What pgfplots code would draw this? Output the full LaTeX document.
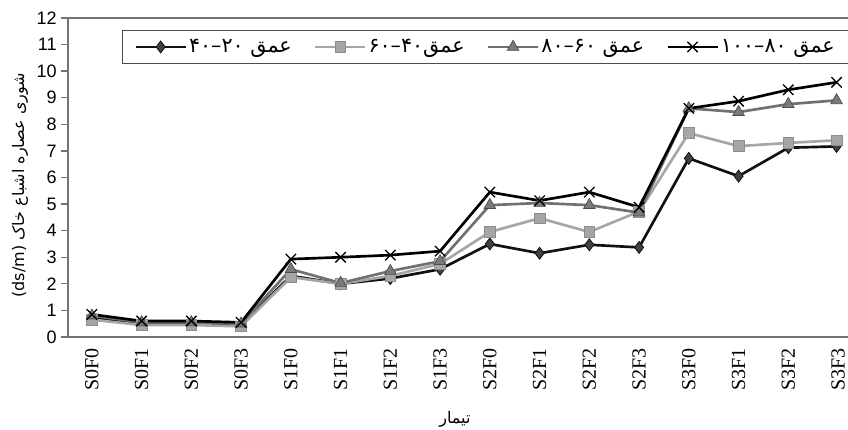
\documentclass[border=0pt]{standalone}
\usepackage{pgfplots}
\pgfplotsset{compat=1.18}
\usepackage{fontspec}
\setmainfont{Liberation Sans}
\newfontfamily\arabicfont[Script=Arabic]{DejaVu Sans}
\newfontfamily\serifx{Liberation Serif}
\TeXXeTstate=1
\definecolor{sA}{HTML}{111111}
\definecolor{sAm}{HTML}{404040}
\definecolor{sB}{HTML}{A6A6A6}
\definecolor{sC}{HTML}{707070}
\definecolor{sCm}{HTML}{7A7A7A}
\begin{document}
\begin{tikzpicture}
\begin{axis}[name=ax, scale only axis, width=585pt, height=239.25pt,
  xmin=-0.48, xmax=15.2, ymin=0, ymax=12,
  ytick={0,1,...,12},
  xtick={0,1,...,15},
  xticklabels={S0F0,S0F1,S0F2,S0F3,S1F0,S1F1,S1F2,S1F3,S2F0,S2F1,S2F2,S2F3,S3F0,S3F1,S3F2,S3F3},
  x tick label style={rotate=90, anchor=east, font=\serifx\fontsize{15}{15}\selectfont},
  y tick label style={font=\fontsize{13.5}{14}\selectfont},
  /pgf/number format/assume math mode=true,
  axis x line*=bottom, axis y line*=left,
  axis line style={black!55, line width=1pt},
  tick align=outside, major tick length=5pt,
  y tick style={black!55, line width=1pt},
  x tick style={draw=none},
  clip=false,
  xlabel={\arabicfont\beginR تیمار\endR},
  xlabel style={at={(axis description cs:0.496,0)}, anchor=center, yshift=-62pt, font=\fontsize{12}{13}\selectfont},
  ylabel={\arabicfont\beginR شوری عصاره اشباع خاک \beginL(ds/m)\endL\endR},
  ylabel style={at={(axis description cs:-0.0615,0.476)}, anchor=center, font=\fontsize{12}{13}\selectfont},
  legend columns=4,
  legend style={at={(0.069,0.962)}, anchor=north west, draw=black!70, line width=0.8pt,
    font=\fontsize{15.5}{16}\selectfont, inner xsep=9pt, inner ysep=4.5pt,
    nodes={inner xsep=1.5pt},
    /tikz/every even column/.append style={column sep=15pt}},
  legend image code/.code={\draw[mark repeat=2,mark phase=2] plot coordinates {(0pt,0pt) (18.75pt,0pt) (37.5pt,0pt)};},
]
\addplot[sA, line width=2pt, mark=diamond*, mark size=4.5pt, mark options={fill=sAm, draw=sA, line width=0.6pt}]
coordinates {(0,0.75)(1,0.5)(2,0.5)(3,0.45)(4,2.3)(5,2.0)(6,2.2)(7,2.55)(8,3.5)(9,3.15)(10,3.47)(11,3.37)(12,6.72)(13,6.05)(14,7.12)(14.97,7.17)};
\addlegendentry{\arabicfont\beginR عمق ۲۰\kern0pt–\kern0pt۴۰\endR}
\addplot[sB, line width=2pt, mark=square*, mark size=4pt, mark options={fill=sB, draw=black!45, line width=0.5pt}]
coordinates {(0,0.65)(1,0.45)(2,0.45)(3,0.4)(4,2.25)(5,2.0)(6,2.3)(7,2.75)(8,3.95)(9,4.47)(10,3.95)(11,4.72)(12,7.67)(13,7.18)(14,7.3)(14.97,7.4)};
\addlegendentry{\arabicfont\beginR عمق۴۰\kern0pt–\kern0pt۶۰\endR}
\addplot[sC, line width=2pt, mark=triangle*, mark size=5pt, mark options={fill=sCm, draw=black!70, line width=0.5pt}]
coordinates {(0,0.8)(1,0.55)(2,0.55)(3,0.5)(4,2.55)(5,2.03)(6,2.48)(7,2.85)(8,4.96)(9,5.04)(10,4.96)(11,4.68)(12,8.6)(13,8.46)(14,8.76)(14.97,8.9)};
\addlegendentry{\arabicfont\beginR عمق ۶۰\kern0pt–\kern0pt۸۰\endR}
\addplot[black, line width=2pt, mark=x, mark size=5.5pt, mark options={line width=1pt}]
coordinates {(0,0.85)(1,0.6)(2,0.6)(3,0.55)(4,2.93)(5,3.0)(6,3.08)(7,3.23)(8,5.45)(9,5.13)(10,5.45)(11,4.88)(12,8.6)(13,8.87)(14,9.3)(14.97,9.58)};
\addlegendentry{\arabicfont\beginR عمق ۸۰\kern0pt–\kern0pt۱۰۰\endR}
\end{axis}
\draw[black!55, line width=1pt] (ax.north west) -- (ax.north east);
\pgfresetboundingbox
\path ([xshift=-51pt,yshift=-69.75pt]ax.south west) rectangle ([yshift=13.5pt]ax.north east);
\end{tikzpicture}
\end{document}
